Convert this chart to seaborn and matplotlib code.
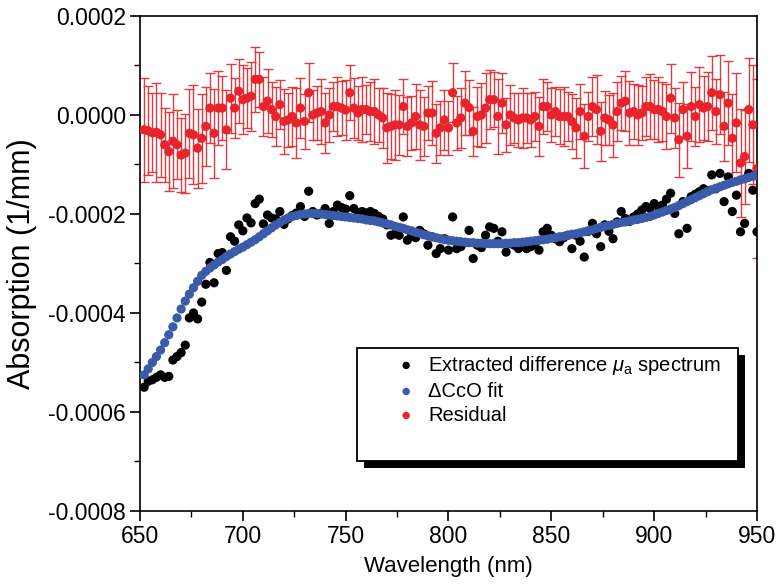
import numpy as np
import pandas as pd
import seaborn as sns
import matplotlib
matplotlib.use("Agg")
from matplotlib import pyplot as plt
from matplotlib.patches import Rectangle
from matplotlib.ticker import MultipleLocator, FormatStrFormatter

# wavelength grid (nm), one sample every 2 nm
wavelength = np.arange(652, 951, 2)

# values below are in units of 1e-5 /mm
fit_e5 = [
    -52.5, -51.3, -50.0, -48.8, -47.5, -46.0, -44.4, -42.8, -41.0, -39.2,
    -37.6, -36.2, -34.9, -33.6, -32.4, -31.6, -30.9, -30.3, -29.7, -29.2,
    -28.6, -28.1, -27.6, -27.1, -26.7, -26.2, -25.7, -25.2, -24.6, -24.0,
    -23.4, -22.8, -22.2, -21.7, -21.2, -20.8, -20.5, -20.3, -20.1, -20.0,
    -19.9, -19.9, -19.9, -20.0, -20.1, -20.2, -20.3, -20.4, -20.5, -20.6,
    -20.7, -20.8, -20.9, -21.0, -21.2, -21.3, -21.4, -21.6, -21.8, -22.0,
    -22.2, -22.5, -22.7, -22.9, -23.2, -23.4, -23.7, -23.9, -24.2, -24.4,
    -24.6, -24.8, -25.0, -25.2, -25.3, -25.4, -25.5, -25.6, -25.7, -25.8,
    -25.8, -25.9, -25.9, -26.0, -26.0, -26.0, -26.0, -26.0, -25.9, -25.9,
    -25.8, -25.8, -25.7, -25.6, -25.5, -25.4, -25.3, -25.2, -25.1, -24.9,
    -24.8, -24.6, -24.5, -24.3, -24.1, -24.0, -23.8, -23.6, -23.4, -23.2,
    -22.9, -22.7, -22.5, -22.3, -22.1, -21.9, -21.7, -21.6, -21.4, -21.2,
    -21.1, -20.9, -20.7, -20.5, -20.2, -19.9, -19.6, -19.3, -19.0, -18.7,
    -18.3, -17.9, -17.5, -17.1, -16.7, -16.3, -15.9, -15.5, -15.1, -14.8,
    -14.5, -14.2, -13.9, -13.6, -13.4, -13.1, -12.9, -12.6, -12.4, -12.1,
]

extracted_e5 = [
    -55.0, -53.8, -53.5, -53.0, -52.5, -53.0, -52.8, -49.5, -48.8, -48.0,
    -46.5, -41.0, -40.0, -41.2, -37.8, -34.2, -29.8, -33.9, -28.0, -27.8,
    -31.4, -24.6, -25.5, -22.2, -23.4, -20.8, -21.8, -17.9, -17.0, -22.0,
    -20.2, -20.8, -21.0, -19.5, -22.1, -21.0, -20.3, -19.8, -18.5, -20.5,
    -15.4, -19.5, -20.2, -19.9, -18.9, -21.9, -19.5, -18.2, -18.7, -19.0,
    -16.3, -18.9, -19.8, -19.5, -19.8, -19.5, -19.9, -20.5, -21.0, -22.2,
    -24.3, -24.0, -24.3, -20.6, -25.3, -24.3, -24.8, -23.3, -24.0, -26.3,
    -24.6, -28.0, -27.0, -25.0, -27.3, -20.6, -27.0, -26.6, -25.8, -23.3,
    -29.0, -26.3, -26.8, -24.3, -22.6, -22.9, -25.5, -23.6, -27.7, -26.0,
    -26.3, -27.0, -26.5, -27.0, -26.6, -26.0, -27.3, -23.6, -22.9, -24.3,
    -25.0, -25.6, -24.8, -24.3, -27.0, -24.3, -25.5, -28.7, -23.5, -21.9,
    -24.0, -26.6, -22.2, -23.5, -25.0, -21.6, -19.5, -20.9, -21.5, -20.6,
    -20.0, -19.2, -18.5, -18.9, -17.9, -18.5, -18.2, -17.0, -15.8, -19.9,
    -24.0, -17.5, -22.9, -16.5, -16.0, -15.5, -14.9, -15.3, -12.1, -14.9,
    -11.8, -17.5, -12.5, -19.5, -16.2, -23.6, -21.9, -11.8, -15.2, -23.6,
]

residual_e5 = [
    -3.0, -3.2, -3.6, -3.5, -4.0, -6.0, -7.4, -5.3, -6.0, -8.1,
    -7.7, -3.7, -4.0, -6.7, -4.7, -2.3, 1.4, -3.7, 1.4, 1.4,
    -3.0, 3.4, 1.4, 4.8, 3.1, 3.4, 3.8, 7.2, 7.2, 1.7,
    2.8, 1.1, -0.3, 2.1, -1.3, -1.0, -0.3, -1.6, 1.4, -1.3,
    4.5, 0.0, 0.4, 0.7, -1.6, 0.0, 1.7, 1.7, 1.4, 1.0,
    4.5, 1.4, 0.4, 1.1, 1.1, 0.7, 0.7, 0.0, -0.6, -2.6,
    -2.3, -2.0, -2.0, 1.7, -2.3, -1.6, -0.3, -2.0, -2.3, 0.4,
    0.4, -3.7, -2.6, -1.0, -2.6, 4.5, -1.6, -0.6, 2.4, 1.5,
    -3.3, -0.3, 0.0, 1.4, 3.1, 3.1, -0.3, 2.4, -2.0, 0.0,
    -0.6, -1.0, -0.6, -0.6, -1.0, -0.3, -2.3, 1.7, 1.7, 0.0,
    0.7, -0.3, -0.3, -0.3, -1.3, -2.6, 0.7, -4.3, -0.3, 1.7,
    1.1, -3.3, -0.6, -1.0, -2.0, 0.7, 2.4, 2.8, 0.4, 0.7,
    0.0, 0.4, 1.7, 1.7, 1.1, 1.1, 0.7, -0.3, 3.4, -0.6,
    -5.0, 1.1, -4.3, 1.7, -0.3, 2.1, 1.4, 1.7, 4.5, 0.7,
    4.1, -2.3, 2.4, -4.7, -1.6, -9.7, -8.4, 1.1, -2.0, -10.8,
]

residual_err_e5 = [
    10.5, 9.0, 8.0, 10.0, 8.5, 7.5, 8.0, 9.5, 7.0, 7.5,
    8.0, 9.0, 10.0, 8.0, 9.0, 8.0, 7.0, 9.0, 7.5, 6.5,
    8.0, 7.0, 6.0, 6.5, 7.0, 6.0, 7.0, 6.5, 5.5, 6.0,
    6.5, 5.5, 6.0, 5.0, 6.5, 5.5, 6.0, 7.0, 6.0, 5.5,
    6.0, 5.0, 5.5, 6.5, 6.0, 5.5, 5.0, 6.0, 5.5, 6.0,
    5.5, 6.0, 5.5, 6.5, 5.0, 6.0, 6.5, 5.5, 6.0, 7.0,
    6.5, 7.0, 6.0, 5.5, 6.0, 5.5, 6.5, 7.0, 6.0, 5.5,
    6.5, 6.0, 5.5, 6.0, 5.5, 6.0, 5.5, 6.0, 6.5, 5.5,
    5.0, 6.0, 6.5, 7.0, 6.0, 5.5, 7.5, 6.0, 5.5, 6.0,
    5.0, 5.5, 6.0, 5.0, 5.5, 5.0, 6.0, 5.5, 5.0, 5.5,
    5.0, 5.5, 6.0, 5.0, 5.5, 6.0, 5.5, 6.5, 5.0, 6.0,
    7.0, 6.0, 5.5, 5.0, 6.5, 6.0, 5.5, 6.0, 6.5, 5.5,
    6.0, 5.5, 6.0, 6.5, 6.0, 6.5, 6.0, 6.5, 7.0, 6.0,
    7.5, 5.5, 6.5, 7.0, 6.0, 7.5, 6.5, 7.0, 7.5, 6.5,
    8.0, 7.0, 8.5, 9.0, 10.0, 11.0, 9.5, 10.5, 12.0, 18.0,
]

y_ticks = [-0.0008, -0.0006, -0.0004, -0.0002, 0.0, 0.0002]
x_ticks = [650, 700, 750, 800, 850, 900, 950]

df = pd.DataFrame({
    "wavelength": wavelength,
    "extracted": np.array(extracted_e5) * 1e-5,
    "fit": np.array(fit_e5) * 1e-5,
    "residual": np.array(residual_e5) * 1e-5,
    "err": np.array(residual_err_e5) * 1e-5,
})

sns.set_style("ticks")
plt.rcParams["font.family"] = ["Liberation Sans", "DejaVu Sans"]
plt.rcParams["mathtext.fontset"] = "custom"
plt.rcParams["mathtext.it"] = "Liberation Sans:italic"
plt.rcParams["mathtext.rm"] = "Liberation Sans"
plt.rcParams["axes.unicode_minus"] = False
for key in ["text.color", "axes.labelcolor", "xtick.color", "ytick.color",
            "axes.edgecolor"]:
    plt.rcParams[key] = "black"

fig, ax = plt.subplots(figsize=(7.8, 5.88), dpi=100)
fig.subplots_adjust(left=0.1795, right=0.9705, bottom=0.131, top=0.9728)

black = "#000000"
blue = "#3a5ba9"
red = "#e8232b"
red_bar = "#dc3b42"
msize = 44

ax.errorbar(df["wavelength"], df["residual"], yerr=df["err"], fmt="none",
            ecolor=red_bar, elinewidth=1.0, capsize=3.5, capthick=1.0, zorder=2)
sns.scatterplot(data=df, x="wavelength", y="residual", color=red, s=msize,
                edgecolor="none", ax=ax, zorder=3,
                label="Residual")
sns.scatterplot(data=df, x="wavelength", y="extracted", color=black, s=msize,
                edgecolor="none", ax=ax, zorder=3,
                label=r"Extracted difference $\mu_{\mathrm{a}}$ spectrum")
sns.scatterplot(data=df, x="wavelength", y="fit", color=blue, s=msize,
                edgecolor="none", ax=ax, zorder=4,
                label="\u0394CcO fit")

ax.set_xlim(650, 950)
ax.set_ylim(-0.0008, 0.0002)
ax.set_xticks(x_ticks)
ax.set_yticks(y_ticks)
ax.xaxis.set_minor_locator(MultipleLocator(25))
ax.yaxis.set_minor_locator(MultipleLocator(0.0001))
ax.yaxis.set_major_formatter(FormatStrFormatter("%.4f"))
ax.tick_params(which="major", direction="out", length=7, width=1.2,
               labelsize=16.5, pad=3, top=False, right=False, colors="black")
ax.tick_params(which="minor", direction="out", length=4, width=1.0,
               top=False, right=False, colors="black")
for sp in ax.spines.values():
    sp.set_linewidth(1.2)
    sp.set_color("black")

ax.set_xlabel("Wavelength (nm)", fontsize=16, labelpad=6)
ax.set_ylabel("Absorption (1/mm)", fontsize=22, labelpad=8)

# legend box with a solid black drop shadow
bx0, by0, bw, bh = 0.352, 0.101, 0.617, 0.228
ax.add_patch(Rectangle((bx0 + 0.011, by0 - 0.014), bw, bh, transform=ax.transAxes,
                       facecolor="black", edgecolor="none", zorder=5))
ax.add_patch(Rectangle((bx0, by0), bw, bh, transform=ax.transAxes,
                       facecolor="white", edgecolor="black", linewidth=1.3, zorder=6))

handles, labels = ax.get_legend_handles_labels()
order = [1, 2, 0]
leg = ax.legend([handles[i] for i in order], [labels[i] for i in order],
                loc="upper left", bbox_to_anchor=(bx0 + 0.05, by0 + bh + 0.005),
                frameon=False, fontsize=14.5, markerscale=0.8,
                handletextpad=0.6, handlelength=1.0, labelspacing=0.25,
                borderaxespad=0.0)
leg.set_zorder(7)

fig.savefig("out.png", dpi=100)
